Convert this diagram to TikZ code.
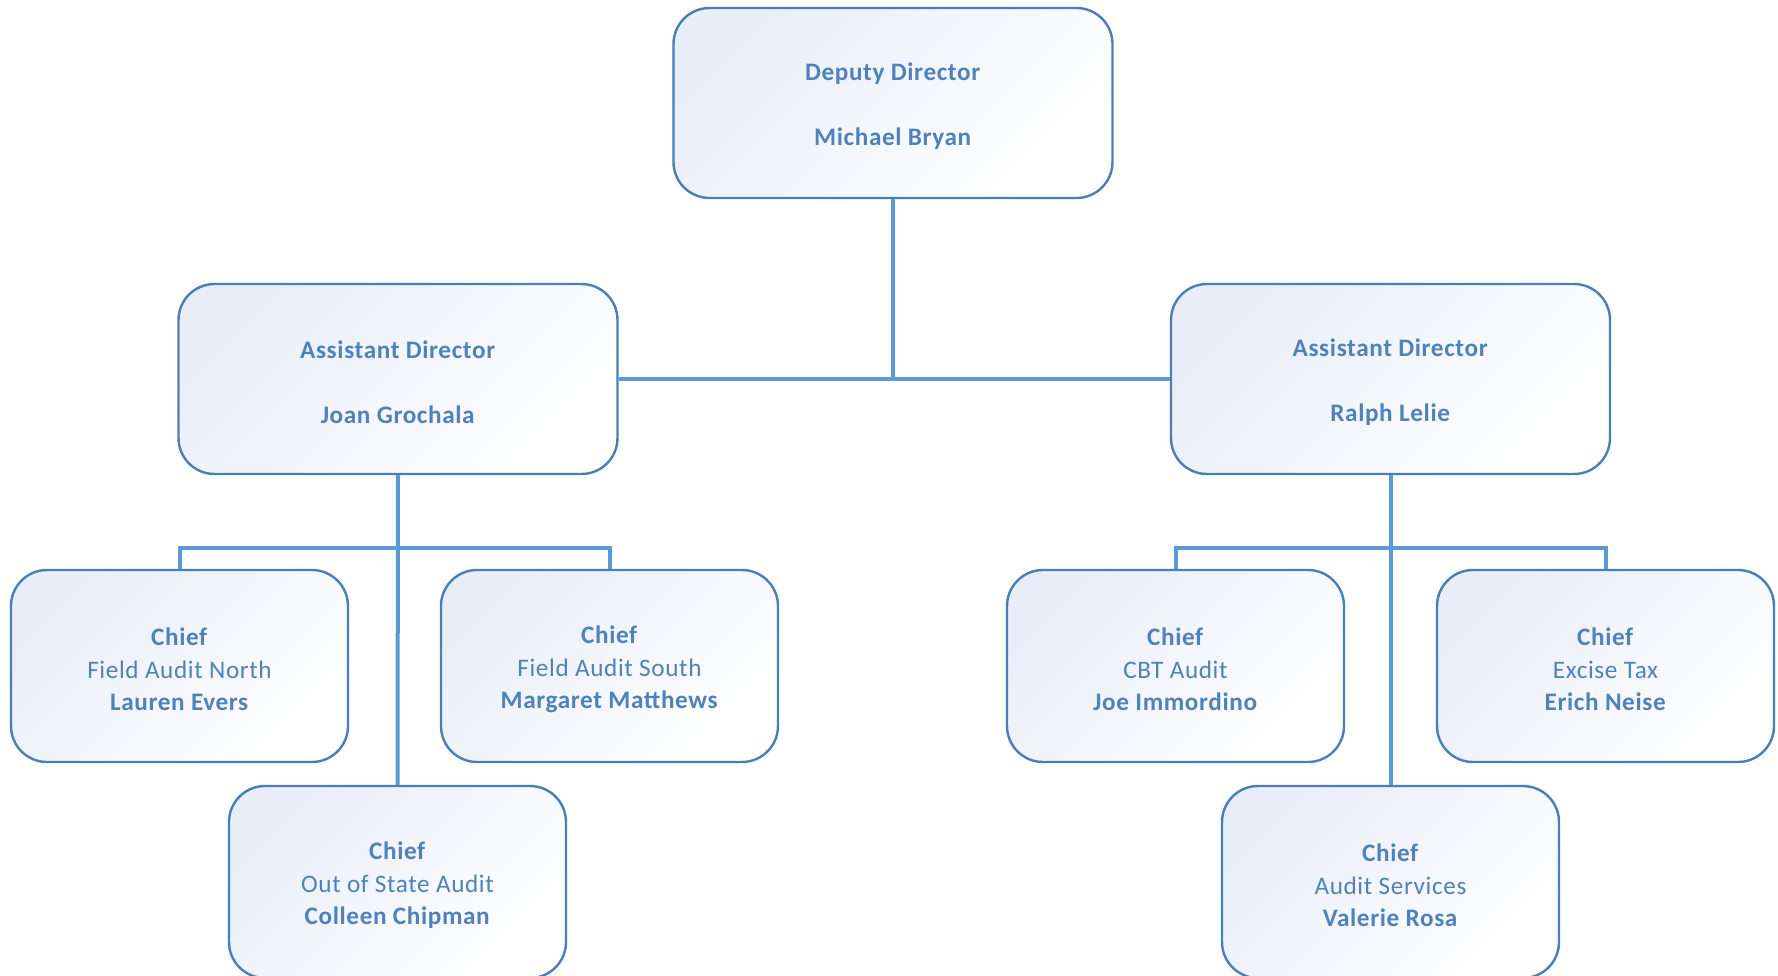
\documentclass[tikz,border=0pt]{standalone}
\usepackage{fontspec}
\setmainfont[LetterSpace=2.5]{Carlito}
\definecolor{bordc}{HTML}{4A7EBB}
\definecolor{linec}{HTML}{5B9BD5}
\definecolor{textc}{HTML}{4F81BD}
\definecolor{fillc}{HTML}{E8EEF8}
\tikzset{
  box/.style={draw=bordc, line width=1.2pt, rounded corners=18pt, inner sep=0pt,
    left color=fillc, middle color=white, right color=white, shading angle=45},
  bigbox/.style={box, minimum width=219.5pt, minimum height=95pt},
  chiefbox/.style={box, minimum width=168.5pt, minimum height=96pt},
  txt/.style={align=center, text=textc, inner sep=0pt, font=\fontsize{12.6}{16.2}\selectfont},
  conn/.style={draw=linec, line width=2pt}
}
\newcommand{\boxtext}[2]{\node[txt] (#1-t) at ([yshift=-1.7pt]#1.center) {#2};}
\begin{document}
\begin{tikzpicture}[x=0.5pt, y=-0.5pt]
\useasboundingbox (0,0) rectangle (1778,975);
\clip (0,0) rectangle (1778,975);
\node[bigbox] (dd) at (893,103) {};
\node[bigbox] (ada) at (398,379) {};
\node[bigbox] (adb) at (1390.5,379) {};
\node[chiefbox] (c1) at (179.5,666) {};
\node[chiefbox] (c2) at (609.5,666) {};
\node[chiefbox] (c3) at (397.5,882) {};
\node[chiefbox] (c4) at (1175.5,666) {};
\node[chiefbox] (c5) at (1605.5,666) {};
\node[chiefbox] (c6) at (1390.5,882) {};
\boxtext{dd}{\textbf{Deputy Director}\\[16.3pt]\textbf{Michael Bryan}}
\boxtext{ada}{\textbf{Assistant Director}\\[16.3pt]\textbf{Joan Grochala}}
\boxtext{adb}{\textbf{Assistant Director}\\[16.3pt]\textbf{Ralph Lelie}}
\boxtext{c1}{\textbf{Chief}\\Field Audit North\\\textbf{Lauren Evers}}
\boxtext{c2}{\textbf{Chief}\\Field Audit South\\\textbf{Margaret Matthews}}
\boxtext{c3}{\textbf{Chief}\\Out of State Audit\\\textbf{Colleen Chipman}}
\boxtext{c4}{\textbf{Chief}\\CBT Audit\\\textbf{Joe Immordino}}
\boxtext{c5}{\textbf{Chief}\\Excise Tax\\\textbf{Erich Neise}}
\boxtext{c6}{\textbf{Chief}\\Audit Services\\\textbf{Valerie Rosa}}
\coordinate (lj) at (398,548);
\coordinate (rj) at (1390.5,548);
\draw[conn] (ada.east) -- (adb.west);
\draw[conn] (dd.south) -- (dd.south |- ada.east);
\draw[conn] (ada.south) -- (c3.north);
\draw[conn] (c1.north) -- (c1.north |- lj) -- (c2.north |- lj) -- (c2.north);
\draw[conn] (adb.south) -- (c6.north);
\draw[conn] (c4.north) -- (c4.north |- rj) -- (c5.north |- rj) -- (c5.north);
\end{tikzpicture}
\end{document}
